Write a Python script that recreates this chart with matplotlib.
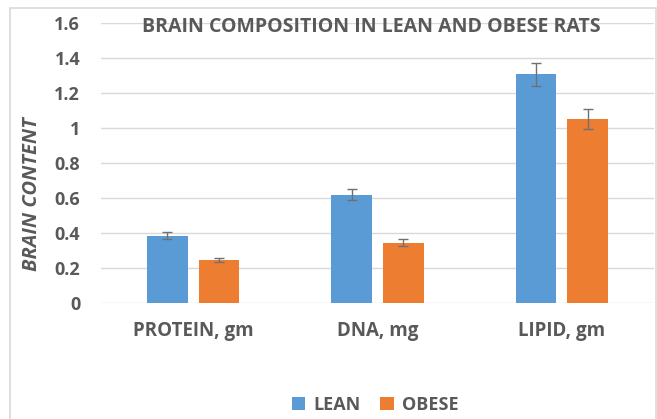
import matplotlib.pyplot as plt
import numpy as np
from matplotlib.patches import Rectangle

categories = ['PROTEIN, gm', 'DNA, mg', 'LIPID, gm']
lean = [0.385, 0.62, 1.307]
lean_err = [0.022, 0.03, 0.065]
obese = [0.244, 0.345, 1.051]
obese_err = [0.011, 0.02, 0.055]
yticks = [0, 0.2, 0.4, 0.6, 0.8, 1.0, 1.2, 1.4, 1.6]
ytick_labels = ['0', '0.2', '0.4', '0.6', '0.8', '1', '1.2', '1.4', '1.6']

text_col = '#595959'
plt.rcParams['font.family'] = ['Open Sans', 'DejaVu Sans']

fig = plt.figure(figsize=(6.57, 4.19), dpi=100)
ax = fig.add_axes([101 / 657, 1 - 303 / 419, 553 / 657, 280 / 419])

# outer chart frame
fig.patches.append(Rectangle((10 / 657, -0.05), 646 / 657, 1.05 - 8 / 419,
                             transform=fig.transFigure, fill=False,
                             edgecolor='#d9d9d9', linewidth=1.2))

x = np.arange(len(categories))
w = 0.222
off = 0.14
err_kw = dict(ecolor='#707070', elinewidth=1.0, capsize=3.5, capthick=1.0)
ax.bar(x - off, lean, w, yerr=lean_err, color='#5B9BD5', label='LEAN',
       error_kw=err_kw, zorder=3)
ax.bar(x + off, obese, w, yerr=obese_err, color='#ED7D31', label='OBESE',
       error_kw=err_kw, zorder=3)

ax.set_xlim(-0.5, 2.5)
ax.set_ylim(0, 1.6)
ax.set_yticks(yticks)
ax.set_yticklabels(ytick_labels)
ax.set_xticks(x)
ax.set_xticklabels(categories)
ax.grid(axis='y', color='#d9d9d9', linewidth=1.0, zorder=0)
for s in ax.spines.values():
    s.set_visible(False)
ax.tick_params(length=0, colors=text_col, labelsize=13)
ax.tick_params(axis='x', labelsize=13.5, pad=13)
ax.tick_params(axis='y', pad=15)
for lab in ax.get_xticklabels() + ax.get_yticklabels():
    lab.set_fontweight('bold')
    lab.set_color(text_col)

ax.set_ylabel('BRAIN CONTENT', fontsize=14.5, fontweight='bold',
              fontstyle='italic', color=text_col)
ax.yaxis.set_label_coords(-0.107, 0.39)

fig.text(0.565, 1 - 27 / 419, 'BRAIN COMPOSITION IN LEAN AND OBESE RATS',
         ha='center', va='center', fontsize=14, fontweight='bold',
         color=text_col)

leg = fig.legend(loc='center', bbox_to_anchor=(0.571, 1 - 405 / 419), ncol=2,
                 frameon=False, fontsize=13, handlelength=0.75,
                 handleheight=0.75, columnspacing=1.1, handletextpad=0.45)
for t in leg.get_texts():
    t.set_color(text_col)
    t.set_fontweight('bold')

fig.savefig('out.png', dpi=100)
